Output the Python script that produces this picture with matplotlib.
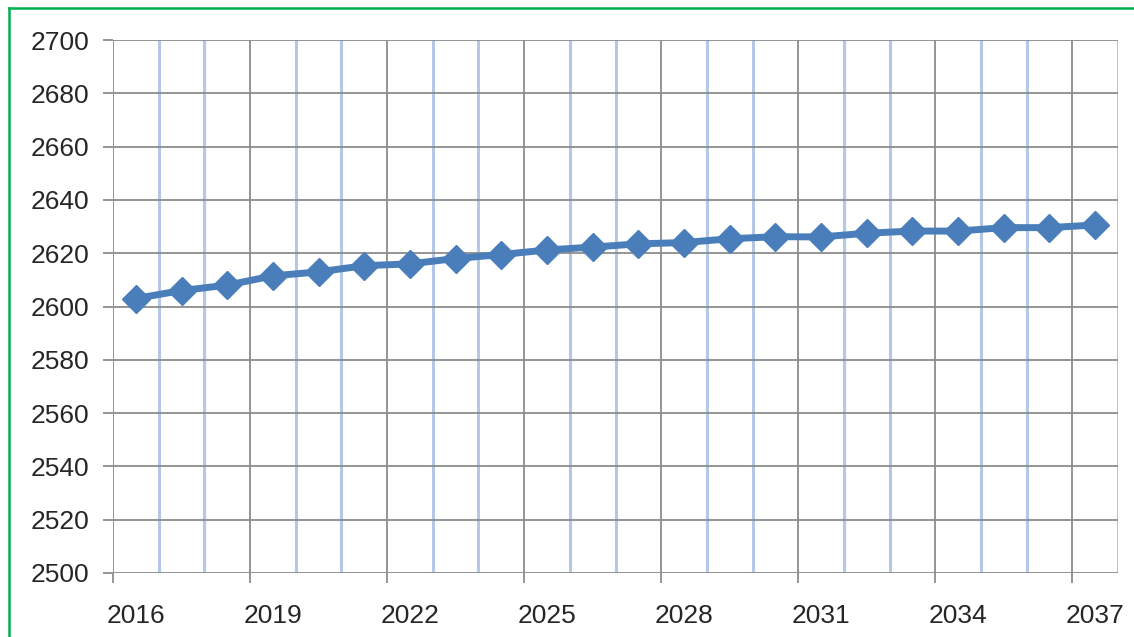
import matplotlib.pyplot as plt
from matplotlib.lines import Line2D

# yearly values
years = list(range(2016, 2038))
values = [2603, 2606, 2608, 2611.5, 2613, 2615.3, 2616, 2618, 2619.5, 2621.2,
          2622.3, 2623.5, 2624, 2625.4, 2626.2, 2626.1, 2627.5, 2628.3, 2628.3,
          2629.6, 2629.6, 2630.6]
y_ticks = list(range(2500, 2701, 20))

plt.rcParams['font.family'] = ['Liberation Sans', 'DejaVu Sans']

fig = plt.figure(figsize=(11.34, 6.37), dpi=100)
ax = fig.add_axes([113 / 1134, 1 - 573 / 637, 1005 / 1134, 533 / 637])

n = len(years)
xs = list(range(n))
ax.set_xlim(-0.5, n - 0.5)
ax.set_ylim(2500, 2700)

# horizontal gridlines
ax.set_yticks(y_ticks)
ax.grid(axis='y', color='#8c8c8c', linewidth=1.3)
ax.set_axisbelow(True)

# vertical lines between categories: grey every third, light blue otherwise
for k in range(n + 1):
    b = k - 0.5
    if k % 3 == 0:
        ax.axvline(b, color='#8c8c8c', linewidth=1.3, zorder=0.5)
    else:
        ax.axvline(b, color='#b4c7e7', linewidth=2.2, zorder=0.5)

ax.plot(xs, values, color='#4a7ebb', linewidth=5, marker='D',
        markersize=14, markerfacecolor='#4a7ebb', markeredgecolor='#4a7ebb',
        solid_capstyle='round', zorder=3)

# labels centred on every third year, tick marks on the boundaries
ax.set_xticks(xs[::3])
ax.set_xticklabels([str(y) for y in years[::3]])
ax.tick_params(axis='x', which='major', length=0, pad=22)
ax.set_xticks([k - 0.5 for k in range(0, n + 1, 3)], minor=True)
ax.tick_params(axis='x', which='minor', length=7, width=1.3, color='#8c8c8c')

ax.tick_params(axis='y', length=7, width=1.3, color='#8c8c8c', pad=10)
for lab in ax.get_xticklabels() + ax.get_yticklabels():
    lab.set_fontsize(19)
    lab.set_color('#262626')

for side in ['top', 'right', 'left', 'bottom']:
    ax.spines[side].set_visible(False)

# green frame along the top and left edges
fig.add_artist(Line2D([8.5 / 1134, 8.5 / 1134], [0, 1 - 8 / 637],
                      transform=fig.transFigure, color='#00b050', linewidth=1.8))
fig.add_artist(Line2D([8.5 / 1134, 1], [1 - 8 / 637, 1 - 8 / 637],
                      transform=fig.transFigure, color='#00b050', linewidth=1.8))

fig.savefig('out.png', dpi=100, facecolor='white')
